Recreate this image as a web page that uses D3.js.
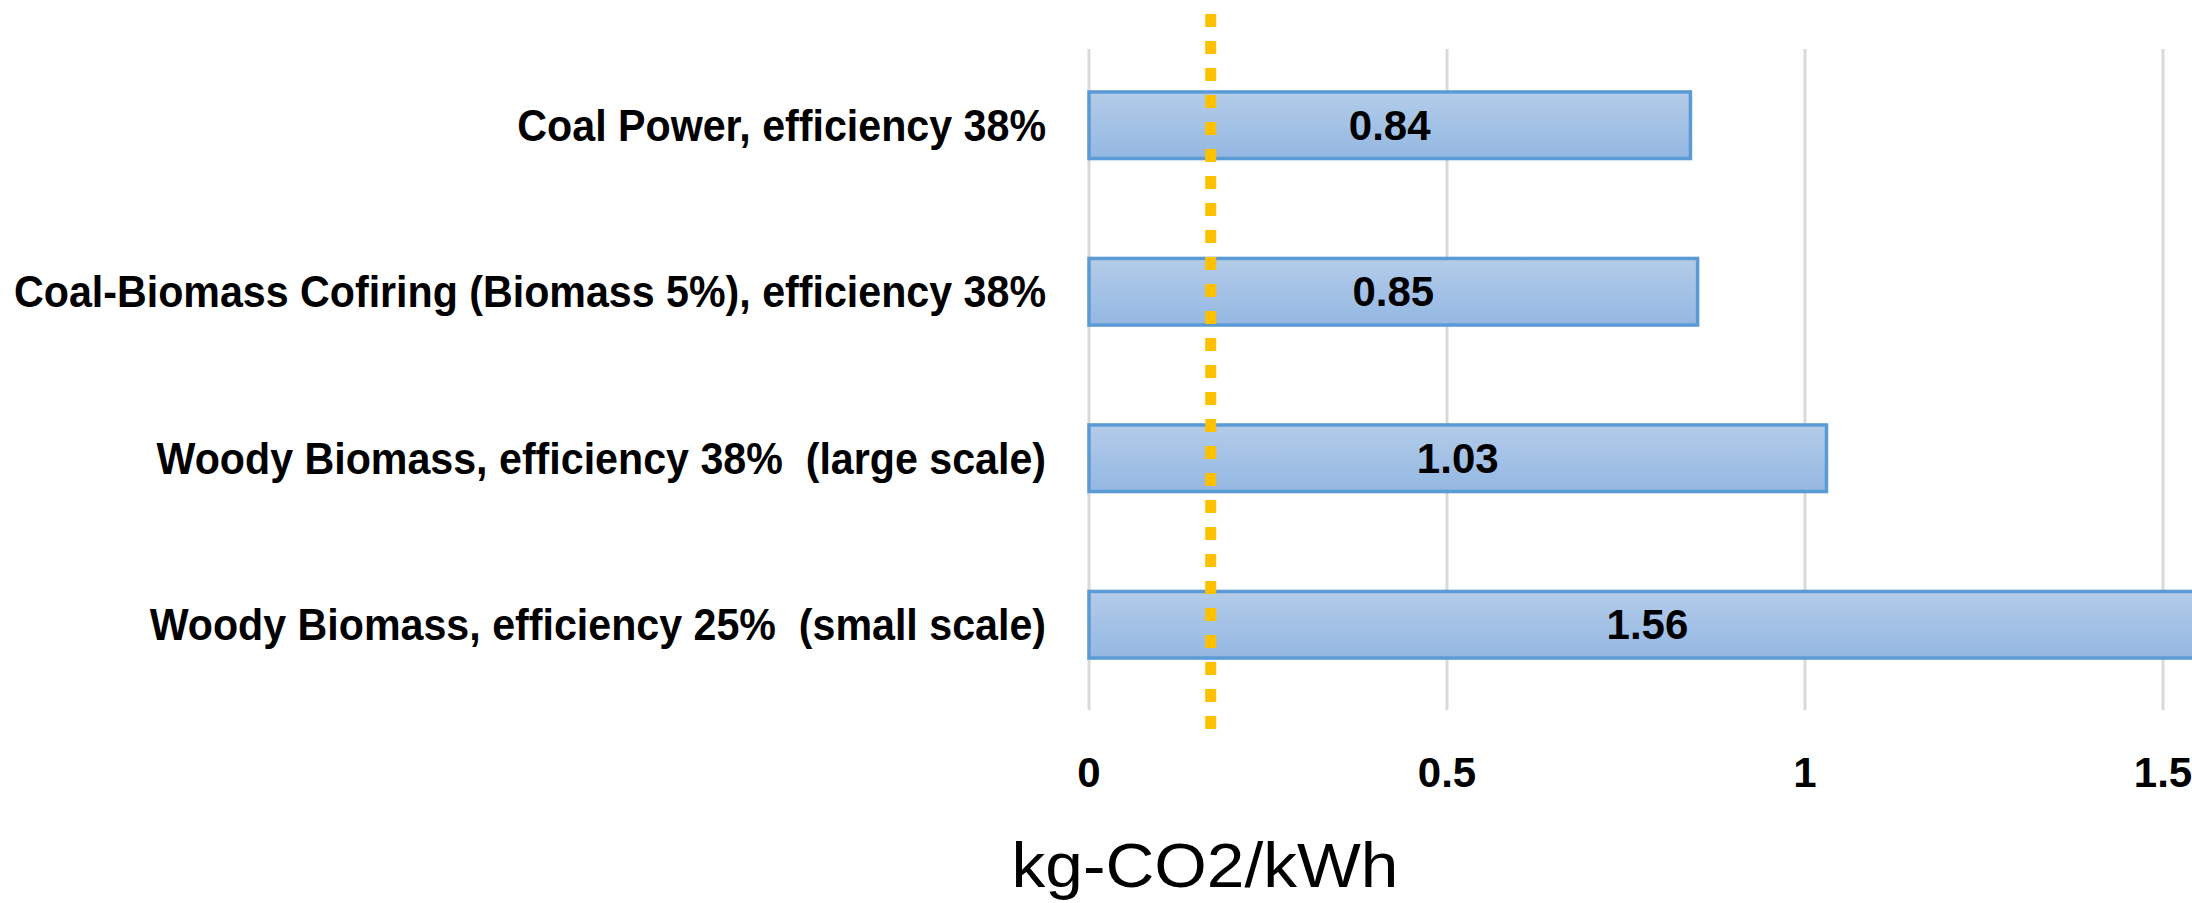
<!DOCTYPE html>
<html>
<head>
<meta charset="utf-8">
<script src="https://cdn.jsdelivr.net/npm/d3@7"></script>
<style>
  html, body { margin: 0; padding: 0; background: #ffffff; overflow: hidden; }
  svg { display: block; }
</style>
</head>
<body>
<script>
// ---- data ----
const categories = [
  "Coal Power, efficiency 38%",
  "Coal-Biomass Cofiring (Biomass 5%), efficiency 38%",
  "Woody Biomass, efficiency 38%  (large scale)",
  "Woody Biomass, efficiency 25%  (small scale)"
];
const values = [0.84, 0.85, 1.03, 1.56];
const xTicks = [0, 0.5, 1, 1.5];
const tickLabels = ["0", "0.5", "1", "1.5"];
const referenceValue = 0.17;
const axisTitle = "kg-CO2/kWh";

// ---- layout ----
const W = 2192, H = 903;
const FONT = "'Liberation Sans', Arial, sans-serif";

const svg = d3.select("body").append("svg")
  .attr("width", W).attr("height", H);

const defs = svg.append("defs");
const grad = defs.append("linearGradient")
  .attr("id", "barGrad").attr("x1", 0).attr("y1", 0).attr("x2", 0).attr("y2", 1);
grad.append("stop").attr("offset", "0%").attr("stop-color", "#b3cce9");
grad.append("stop").attr("offset", "100%").attr("stop-color", "#94b7e2");

const x = d3.scaleLinear().domain([0, 1.5]).range([1089, 2163]);
const y = d3.scaleBand().domain(categories).range([42, 708])
  .paddingInner(0.6).paddingOuter(0.3);

// gridlines
const grid = svg.append("g");
grid.selectAll("line").data(xTicks).join("line")
  .attr("x1", d => x(d)).attr("x2", d => x(d))
  .attr("y1", 49).attr("y2", 710)
  .attr("stroke", "#d9d9d9").attr("stroke-width", 3);

// bars
const data = categories.map((c, i) => ({ c, v: values[i] }));
svg.append("g").selectAll("rect").data(data).join("rect")
  .attr("x", x(0))
  .attr("y", d => y(d.c))
  .attr("width", d => x(d.v) - x(0))
  .attr("height", y.bandwidth())
  .attr("fill", "url(#barGrad)")
  .attr("stroke", "#5b9bd5")
  .attr("stroke-width", 3.5);

// reference dotted line
svg.append("line")
  .attr("x1", x(referenceValue)).attr("x2", x(referenceValue))
  .attr("y1", 14).attr("y2", 734)
  .attr("stroke", "#ffc000").attr("stroke-width", 11)
  .attr("stroke-dasharray", "13,14");

// bar value labels
svg.append("g").selectAll("text").data(data).join("text")
  .attr("x", d => (x(0) + x(d.v)) / 2)
  .attr("y", d => y(d.c) + y.bandwidth() / 2)
  .attr("text-anchor", "middle")
  .attr("dominant-baseline", "central")
  .attr("font-family", FONT)
  .attr("font-weight", "bold")
  .attr("font-size", 42)
  .attr("fill", "#000")
  .text(d => d.v.toFixed(2));

// category labels (condensed to mimic Calibri)
const catG = svg.append("g");
const catTexts = catG.selectAll("text").data(categories).join("text")
  .attr("text-anchor", "end")
  .attr("dominant-baseline", "central")
  .attr("font-family", FONT)
  .attr("font-weight", "bold")
  .attr("font-size", 44)
  .attr("fill", "#000")
  .style("white-space", "pre")
  .text(d => d);
let maxW = 0;
catTexts.each(function () { maxW = Math.max(maxW, this.getComputedTextLength()); });
const sx = 1032 / maxW;
catTexts.attr("transform", d => `translate(1046,${y(d) + y.bandwidth() / 2}) scale(${sx},1)`);

// x tick labels
svg.append("g").selectAll("text").data(xTicks).join("text")
  .attr("x", d => x(d))
  .attr("y", 772)
  .attr("text-anchor", "middle")
  .attr("dominant-baseline", "central")
  .attr("font-family", FONT)
  .attr("font-weight", "bold")
  .attr("font-size", 42)
  .attr("fill", "#000")
  .text((d, i) => tickLabels[i]);

// axis title
const title = svg.append("text")
  .attr("text-anchor", "middle")
  .attr("font-family", FONT)
  .attr("font-size", 62)
  .attr("fill", "#000")
  .text(axisTitle);
const tw = title.node().getComputedTextLength();
title.attr("transform", `translate(1205,887) scale(${387 / tw},1)`);
</script>
</body>
</html>
